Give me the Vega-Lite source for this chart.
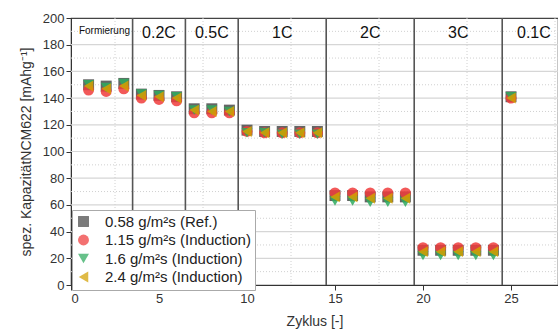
{
  "$schema": "https://vega.github.io/schema/vega-lite/v6.json",
  "autosize": "none",
  "width": 487,
  "height": 267,
  "padding": {"left": 71, "top": 18, "right": 0, "bottom": 50},
  "config": {
    "font": "Liberation Sans",
    "view": {"stroke": "#444", "strokeWidth": 1.2},
    "axis": {"grid": false, "labelFontSize": 13, "labelColor": "#333", "titleFontSize": 14, "titleFontWeight": "normal", "titleColor": "#333", "domainColor": "#333", "tickColor": "#333", "tickSize": 5, "labelOverlap": false},
    "axisY": {"labelOverlap": false, "tickCount": 10}
  },
  "datasets": {
    "hgrid": [
      {"v": 20, "kind": "major"}, {"v": 40, "kind": "major"}, {"v": 60, "kind": "major"}, {"v": 80, "kind": "major"},
      {"v": 100, "kind": "major"}, {"v": 120, "kind": "major"}, {"v": 140, "kind": "major"}, {"v": 160, "kind": "major"}, {"v": 180, "kind": "major"},
      {"v": 10, "kind": "minor"}, {"v": 30, "kind": "minor"}, {"v": 50, "kind": "minor"}, {"v": 70, "kind": "minor"}, {"v": 90, "kind": "minor"},
      {"v": 110, "kind": "minor"}, {"v": 130, "kind": "minor"}, {"v": 150, "kind": "minor"}, {"v": 170, "kind": "minor"}, {"v": 190, "kind": "minor"}
    ],
    "vgrid": [
      {"v": 2.5}, {"v": 7.5}, {"v": 12.5}, {"v": 17.5}, {"v": 22.5}, {"v": 27.5}
    ],
    "seps": [{"x": 3.5}, {"x": 6.5}, {"x": 9.5}, {"x": 14.5}, {"x": 19.5}, {"x": 24.5}],
    "labels": [
      {"x": 1.9, "y": 190.5, "label": "Formierung", "kind": "small"},
      {"x": 5, "y": 189, "label": "0.2C", "kind": "big"},
      {"x": 8, "y": 189, "label": "0.5C", "kind": "big"},
      {"x": 12, "y": 189, "label": "1C", "kind": "big"},
      {"x": 17, "y": 189, "label": "2C", "kind": "big"},
      {"x": 22, "y": 189, "label": "3C", "kind": "big"},
      {"x": 26.3, "y": 189, "label": "0.1C", "kind": "big"}
    ],
    "pts": [
      {"cycle": 1, "series": "0.58 g/m²s (Ref.)", "value": 150},
      {"cycle": 2, "series": "0.58 g/m²s (Ref.)", "value": 149},
      {"cycle": 3, "series": "0.58 g/m²s (Ref.)", "value": 151},
      {"cycle": 4, "series": "0.58 g/m²s (Ref.)", "value": 143},
      {"cycle": 5, "series": "0.58 g/m²s (Ref.)", "value": 142},
      {"cycle": 6, "series": "0.58 g/m²s (Ref.)", "value": 141},
      {"cycle": 7, "series": "0.58 g/m²s (Ref.)", "value": 132},
      {"cycle": 8, "series": "0.58 g/m²s (Ref.)", "value": 132},
      {"cycle": 9, "series": "0.58 g/m²s (Ref.)", "value": 131},
      {"cycle": 10, "series": "0.58 g/m²s (Ref.)", "value": 116},
      {"cycle": 11, "series": "0.58 g/m²s (Ref.)", "value": 115},
      {"cycle": 12, "series": "0.58 g/m²s (Ref.)", "value": 115},
      {"cycle": 13, "series": "0.58 g/m²s (Ref.)", "value": 115},
      {"cycle": 14, "series": "0.58 g/m²s (Ref.)", "value": 115},
      {"cycle": 15, "series": "0.58 g/m²s (Ref.)", "value": 67},
      {"cycle": 16, "series": "0.58 g/m²s (Ref.)", "value": 67},
      {"cycle": 17, "series": "0.58 g/m²s (Ref.)", "value": 66},
      {"cycle": 18, "series": "0.58 g/m²s (Ref.)", "value": 66},
      {"cycle": 19, "series": "0.58 g/m²s (Ref.)", "value": 66},
      {"cycle": 20, "series": "0.58 g/m²s (Ref.)", "value": 26},
      {"cycle": 21, "series": "0.58 g/m²s (Ref.)", "value": 26},
      {"cycle": 22, "series": "0.58 g/m²s (Ref.)", "value": 26},
      {"cycle": 23, "series": "0.58 g/m²s (Ref.)", "value": 26},
      {"cycle": 24, "series": "0.58 g/m²s (Ref.)", "value": 26},
      {"cycle": 25, "series": "0.58 g/m²s (Ref.)", "value": 141},
      {"cycle": 1, "series": "1.15 g/m²s (Induction)", "value": 146},
      {"cycle": 2, "series": "1.15 g/m²s (Induction)", "value": 145},
      {"cycle": 3, "series": "1.15 g/m²s (Induction)", "value": 147},
      {"cycle": 4, "series": "1.15 g/m²s (Induction)", "value": 140},
      {"cycle": 5, "series": "1.15 g/m²s (Induction)", "value": 139},
      {"cycle": 6, "series": "1.15 g/m²s (Induction)", "value": 138},
      {"cycle": 7, "series": "1.15 g/m²s (Induction)", "value": 129},
      {"cycle": 8, "series": "1.15 g/m²s (Induction)", "value": 129},
      {"cycle": 9, "series": "1.15 g/m²s (Induction)", "value": 129},
      {"cycle": 10, "series": "1.15 g/m²s (Induction)", "value": 115},
      {"cycle": 11, "series": "1.15 g/m²s (Induction)", "value": 114},
      {"cycle": 12, "series": "1.15 g/m²s (Induction)", "value": 114},
      {"cycle": 13, "series": "1.15 g/m²s (Induction)", "value": 114},
      {"cycle": 14, "series": "1.15 g/m²s (Induction)", "value": 114},
      {"cycle": 15, "series": "1.15 g/m²s (Induction)", "value": 69},
      {"cycle": 16, "series": "1.15 g/m²s (Induction)", "value": 69},
      {"cycle": 17, "series": "1.15 g/m²s (Induction)", "value": 69},
      {"cycle": 18, "series": "1.15 g/m²s (Induction)", "value": 69},
      {"cycle": 19, "series": "1.15 g/m²s (Induction)", "value": 69},
      {"cycle": 20, "series": "1.15 g/m²s (Induction)", "value": 28},
      {"cycle": 21, "series": "1.15 g/m²s (Induction)", "value": 28},
      {"cycle": 22, "series": "1.15 g/m²s (Induction)", "value": 28},
      {"cycle": 23, "series": "1.15 g/m²s (Induction)", "value": 28},
      {"cycle": 24, "series": "1.15 g/m²s (Induction)", "value": 28},
      {"cycle": 25, "series": "1.15 g/m²s (Induction)", "value": 140},
      {"cycle": 1, "series": "1.6 g/m²s (Induction)", "value": 150},
      {"cycle": 2, "series": "1.6 g/m²s (Induction)", "value": 148},
      {"cycle": 3, "series": "1.6 g/m²s (Induction)", "value": 151},
      {"cycle": 4, "series": "1.6 g/m²s (Induction)", "value": 143},
      {"cycle": 5, "series": "1.6 g/m²s (Induction)", "value": 142},
      {"cycle": 6, "series": "1.6 g/m²s (Induction)", "value": 141},
      {"cycle": 7, "series": "1.6 g/m²s (Induction)", "value": 131},
      {"cycle": 8, "series": "1.6 g/m²s (Induction)", "value": 131},
      {"cycle": 9, "series": "1.6 g/m²s (Induction)", "value": 130},
      {"cycle": 10, "series": "1.6 g/m²s (Induction)", "value": 114},
      {"cycle": 11, "series": "1.6 g/m²s (Induction)", "value": 114},
      {"cycle": 12, "series": "1.6 g/m²s (Induction)", "value": 113},
      {"cycle": 13, "series": "1.6 g/m²s (Induction)", "value": 113},
      {"cycle": 14, "series": "1.6 g/m²s (Induction)", "value": 113},
      {"cycle": 15, "series": "1.6 g/m²s (Induction)", "value": 63},
      {"cycle": 16, "series": "1.6 g/m²s (Induction)", "value": 63},
      {"cycle": 17, "series": "1.6 g/m²s (Induction)", "value": 62},
      {"cycle": 18, "series": "1.6 g/m²s (Induction)", "value": 62},
      {"cycle": 19, "series": "1.6 g/m²s (Induction)", "value": 62},
      {"cycle": 20, "series": "1.6 g/m²s (Induction)", "value": 22},
      {"cycle": 21, "series": "1.6 g/m²s (Induction)", "value": 22},
      {"cycle": 22, "series": "1.6 g/m²s (Induction)", "value": 22},
      {"cycle": 23, "series": "1.6 g/m²s (Induction)", "value": 22},
      {"cycle": 24, "series": "1.6 g/m²s (Induction)", "value": 22},
      {"cycle": 25, "series": "1.6 g/m²s (Induction)", "value": 141},
      {"cycle": 1, "series": "2.4 g/m²s (Induction)", "value": 149},
      {"cycle": 2, "series": "2.4 g/m²s (Induction)", "value": 147},
      {"cycle": 3, "series": "2.4 g/m²s (Induction)", "value": 149},
      {"cycle": 4, "series": "2.4 g/m²s (Induction)", "value": 142},
      {"cycle": 5, "series": "2.4 g/m²s (Induction)", "value": 141},
      {"cycle": 6, "series": "2.4 g/m²s (Induction)", "value": 140},
      {"cycle": 7, "series": "2.4 g/m²s (Induction)", "value": 131},
      {"cycle": 8, "series": "2.4 g/m²s (Induction)", "value": 130},
      {"cycle": 9, "series": "2.4 g/m²s (Induction)", "value": 130},
      {"cycle": 10, "series": "2.4 g/m²s (Induction)", "value": 115},
      {"cycle": 11, "series": "2.4 g/m²s (Induction)", "value": 114},
      {"cycle": 12, "series": "2.4 g/m²s (Induction)", "value": 114},
      {"cycle": 13, "series": "2.4 g/m²s (Induction)", "value": 114},
      {"cycle": 14, "series": "2.4 g/m²s (Induction)", "value": 114},
      {"cycle": 15, "series": "2.4 g/m²s (Induction)", "value": 66},
      {"cycle": 16, "series": "2.4 g/m²s (Induction)", "value": 66},
      {"cycle": 17, "series": "2.4 g/m²s (Induction)", "value": 65},
      {"cycle": 18, "series": "2.4 g/m²s (Induction)", "value": 65},
      {"cycle": 19, "series": "2.4 g/m²s (Induction)", "value": 65},
      {"cycle": 20, "series": "2.4 g/m²s (Induction)", "value": 25},
      {"cycle": 21, "series": "2.4 g/m²s (Induction)", "value": 25},
      {"cycle": 22, "series": "2.4 g/m²s (Induction)", "value": 25},
      {"cycle": 23, "series": "2.4 g/m²s (Induction)", "value": 25},
      {"cycle": 24, "series": "2.4 g/m²s (Induction)", "value": 25},
      {"cycle": 25, "series": "2.4 g/m²s (Induction)", "value": 140}
    ]
  },
  "encoding": {
    "y": {"type": "quantitative", "scale": {"domain": [0, 200], "nice": false},
          "title": "spez. KapazitätNCM622 [mAhg⁻¹]",
          "axis": {"tickCount": 10, "titlePadding": 9, "labelOverlap": false}}
  },
  "layer": [
    {
      "data": {"name": "hgrid"},
      "transform": [{"filter": "datum.kind === 'major'"}],
      "mark": {"type": "rule", "color": "#d6d6d6", "strokeWidth": 1.2},
      "encoding": {"y": {"field": "v", "type": "quantitative"}}
    },
    {
      "data": {"name": "hgrid"},
      "transform": [{"filter": "datum.kind === 'minor'"}],
      "mark": {"type": "rule", "color": "#d0d0d0", "strokeWidth": 1, "strokeDash": [1, 2]},
      "encoding": {"y": {"field": "v", "type": "quantitative"}}
    },
    {
      "data": {"name": "vgrid"},
      "mark": {"type": "rule", "color": "#d0d0d0", "strokeWidth": 1, "strokeDash": [1, 2]},
      "encoding": {"x": {"field": "v", "type": "quantitative", "scale": {"domain": [0, 27.67], "nice": false},
                         "title": "Zyklus [-]",
                         "axis": {"values": [0, 5, 10, 15, 20, 25], "titlePadding": 9, "labelOverlap": false}}}
    },
    {
      "data": {"name": "seps"},
      "mark": {"type": "rule", "color": "#555", "strokeWidth": 1.6},
      "encoding": {"x": {"field": "x", "type": "quantitative", "title": "Zyklus [-]"}}
    },
    {
      "data": {"name": "labels"},
      "transform": [{"filter": "datum.kind === 'small'"}],
      "mark": {"type": "text", "fontSize": 10, "color": "#111", "baseline": "middle"},
      "encoding": {"x": {"field": "x", "type": "quantitative", "title": "Zyklus [-]"},
                   "y": {"field": "y", "type": "quantitative"},
                   "text": {"field": "label"}}
    },
    {
      "data": {"name": "labels"},
      "transform": [{"filter": "datum.kind === 'big'"}],
      "mark": {"type": "text", "fontSize": 16, "color": "#111", "baseline": "middle"},
      "encoding": {"x": {"field": "x", "type": "quantitative", "title": "Zyklus [-]"},
                   "y": {"field": "y", "type": "quantitative"},
                   "text": {"field": "label"}}
    },
    {
      "data": {"name": "pts"},
      "mark": {"type": "point", "filled": true, "size": 120, "opacity": 0.85},
      "encoding": {
        "x": {"field": "cycle", "type": "quantitative", "title": "Zyklus [-]"},
        "y": {"field": "value", "type": "quantitative"},
        "color": {"field": "series", "type": "nominal", "title": null,
                  "scale": {"domain": ["0.58 g/m²s (Ref.)", "1.15 g/m²s (Induction)", "1.6 g/m²s (Induction)", "2.4 g/m²s (Induction)"],
                            "range": ["#4a4a4a", "#f03c3c", "#2eaa5e", "#d4a000"]},
                  "legend": {"orient": "none", "legendX": 1, "legendY": 192, "fillColor": "white", "strokeColor": "#aaa", "padding": 4,
                             "labelFontSize": 15, "labelColor": "#222", "symbolSize": 120, "rowPadding": 1.5, "labelOffset": 14, "symbolOpacity": 1}},
        "shape": {"field": "series", "type": "nominal", "title": null,
                  "scale": {"domain": ["0.58 g/m²s (Ref.)", "1.15 g/m²s (Induction)", "1.6 g/m²s (Induction)", "2.4 g/m²s (Induction)"],
                            "range": ["square", "circle", "triangle-down", "triangle-left"]}}
      }
    }
  ]
}
